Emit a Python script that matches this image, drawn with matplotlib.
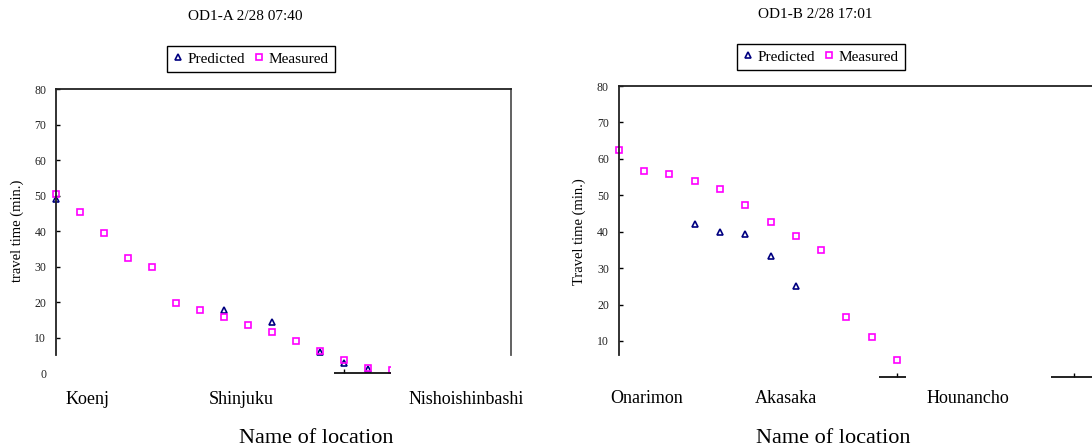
import numpy as np
import matplotlib.pyplot as plt
from matplotlib.transforms import Bbox, TransformedBbox

plt.rcParams['font.family'] = ['Liberation Serif', 'DejaVu Serif']

nan = np.nan

# OD1-A 2/28 07:40 (Koenj -> Nishoishinbashi)
a_measured = [50.5, 45.4, 39.5, 32.4, 29.9, 19.9, 17.8, 15.8, 13.5, 11.5, 9.0, 6.4, 3.7, 1.4, 1.0]
a_predicted = [49.0, nan, nan, nan, nan, nan, nan, 17.8, nan, 14.4, nan, 6.1, 2.8, 1.3, nan]
a_locations = ['Koenj', 'Shinjuku', 'Nishoishinbashi']

# OD1-B 2/28 17:01 (Onarimon -> Hounancho)
b_measured = [62.3, 56.7, 55.9, 53.8, 51.6, 47.2, 42.7, 38.7, 35.0, 16.7, 11.2, 4.7]
b_predicted = [nan, nan, nan, 42.2, 39.8, 39.5, 33.4, 25.1, nan, nan, nan, nan]
b_locations = ['Onarimon', 'Akasaka', 'Hounancho']

PRED_COLOR = '#000080'
MEAS_COLOR = '#FF00FF'


def panel(fig, rect, measured, predicted, xmax, yticks, ylabel, ylabel_x):
    ax = fig.add_axes(rect)
    x_m = np.arange(len(measured))
    x_p = np.arange(len(predicted))
    hp, = ax.plot(x_p, predicted, linestyle='none', marker='^', ms=5, mfc='none',
                  mec=PRED_COLOR, mew=1.2, clip_on=False)
    hm, = ax.plot(x_m, measured, linestyle='none', marker='s', ms=5, mfc='none',
                  mec=MEAS_COLOR, mew=1.2, clip_on=False)
    ax.set_xlim(0, xmax)
    ax.set_ylim(0, 80)
    ax.set_yticks(yticks)
    ax.tick_params(axis='y', direction='in', length=3, width=1, labelsize=8.5,
                   pad=7, labelcolor='#222')
    for s in ['top', 'left', 'right']:
        ax.spines[s].set_linewidth(1.3)
    ax.spines['bottom'].set_visible(False)
    ax.spines['top'].set_color('#222')
    ax.spines['left'].set_color('#222')
    ax.spines['right'].set_color('#555')
    fig.text(ylabel_x / 1092, 0.484, ylabel, rotation=90, ha='center', va='center',
             fontsize=10.5)
    return ax, hp, hm


fig = plt.figure(figsize=(10.92, 4.48), dpi=100)

# ---- left panel ----
ax1, hp1, hm1 = panel(fig, [56 / 1092, 0.1667, 455 / 1092, 0.6346],
                      a_measured, a_predicted, 18.94, np.arange(0, 81, 10),
                      'travel time (min.)', 17)
# last measured marker is cut off by the plot area
hm1.set_clip_on(True)
hm1.set_clip_path(None)
hm1.set_clip_box(TransformedBbox(Bbox([[-1, -10], [13.9, 90]]), ax1.transData))
ax1.spines['left'].set_bounds(5.1, 80)
ax1.spines['right'].set_bounds(5.1, 80)
ax1.yaxis.get_major_ticks()[0].tick1line.set_visible(False)
ax1.hlines(0, 11.57, 13.93, color='#111', lw=1.3, clip_on=False)
ax1.set_xticks([12], minor=True)
ax1.set_xticks([1.33, 7.7, 17.07], a_locations)
ax1.tick_params(axis='x', which='major', length=0, labelsize=13, pad=13)
ax1.tick_params(axis='x', which='minor', direction='in', length=3, width=1)

# ---- right panel ----
ax2, hp2, hm2 = panel(fig, [618.7 / 1092, 0.1576, 480.7 / 1092, 0.6504],
                      b_measured, b_predicted, 19, np.arange(10, 81, 10),
                      'Travel time (min.)', 579)
ax2.spines['left'].set_bounds(6.1, 80)
ax2.spines['right'].set_visible(False)
ax2.hlines(0, 10.3, 11.34, color='#111', lw=1.3, clip_on=False)
ax2.hlines(0, 17.1, 19.5, color='#111', lw=1.3, clip_on=False)
ax2.set_xticks([11, 18], minor=True)
ax2.set_xticks([1.12, 6.61, 13.81], b_locations)
ax2.tick_params(axis='x', which='major', length=0, labelsize=13, pad=9)
ax2.tick_params(axis='x', which='minor', direction='in', length=3, width=1)

# titles, legends, x labels
for cx, ty, ly, title, hp, hm in [(245, 16, 59, 'OD1-A 2/28 07:40', hp1, hm1),
                                  (815, 15, 57, 'OD1-B 2/28 17:01', hp2, hm2)]:
    fig.text(cx / 1092, 1 - ty / 448, title, ha='center', va='center', fontsize=11)
    leg = fig.legend([hp, hm], ['Predicted', 'Measured'], loc='center', ncol=2,
                     bbox_to_anchor=((cx + 6) / 1092, 1 - ly / 448), fontsize=11,
                     fancybox=False, framealpha=1, edgecolor='black',
                     handlelength=0.6, handletextpad=0.35, columnspacing=0.6,
                     borderpad=0.4, markerscale=0.8)
    leg.get_frame().set_linewidth(1.0)

fig.text(316 / 1092, 5 / 448, 'Name of location', ha='center', va='baseline', fontsize=16)
fig.text(833 / 1092, 5 / 448, 'Name of location', ha='center', va='baseline', fontsize=16)

fig.savefig('out.png', dpi=100)
